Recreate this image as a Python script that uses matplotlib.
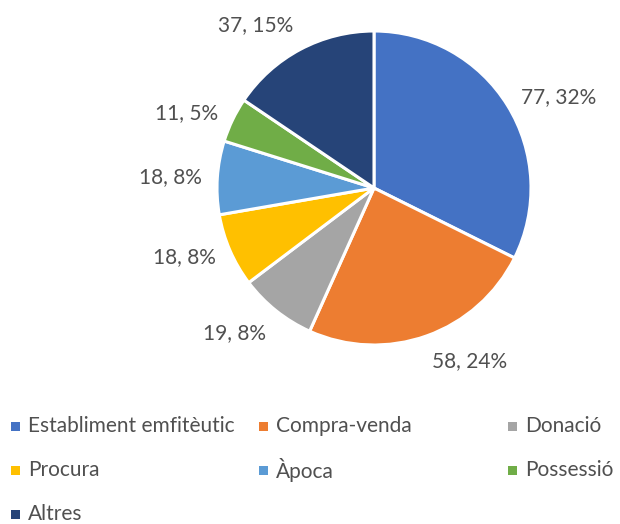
import matplotlib
matplotlib.use("Agg")
import matplotlib.pyplot as plt
from matplotlib.patches import Rectangle
import numpy as np

categories = ["Establiment emfitèutic", "Compra-venda", "Donació", "Procura",
              "Àpoca", "Possessió", "Altres"]
values = [77, 58, 19, 18, 18, 11, 37]
pct_labels = ["32%", "24%", "8%", "8%", "8%", "5%", "15%"]
colors = ["#4472C4", "#ED7D31", "#A5A5A5", "#FFC000", "#5B9BD5", "#70AD47", "#264478"]

plt.rcParams['font.family'] = ['Lato', 'DejaVu Sans']
text_color = "#505050"

W, H = 620, 524
fig = plt.figure(figsize=(W / 100, H / 100), dpi=100)

cx, cy, r = 374, 188, 157
ax = fig.add_axes([(cx - r) / W, (H - cy - r) / H, 2 * r / W, 2 * r / H])
wedges, _ = ax.pie(values, colors=colors, startangle=90, counterclock=False,
                   radius=1.0, wedgeprops=dict(edgecolor="white", linewidth=2.2))
ax.set_xlim(-1, 1)
ax.set_ylim(-1, 1)
ax.set_aspect("equal")
ax.axis("off")

total = sum(values)
cum = 0
for v, p in zip(values, pct_labels):
    mid = (cum + v / 2) / total * 2 * np.pi
    cum += v
    x, y = np.sin(mid), np.cos(mid)
    ha = "left" if x > 0 else "right"
    if y > 0.7:
        va = "bottom"
    elif y < -0.7:
        va = "top"
    else:
        va = "center"
    ax.text(1.1 * x, 1.1 * y, f"{v}, {p}", ha=ha, va=va, fontsize=15,
            color=text_color, clip_on=False)

# legend (row-major, 3 columns)
col_x = [11, 259, 508]
row_y = [426, 470, 514]
sq = 9
for i, (lab, c) in enumerate(zip(categories, colors)):
    row, col = divmod(i, 3)
    mx, my = col_x[col], row_y[row]
    fig.add_artist(Rectangle(((mx) / W, (H - my - sq / 2) / H), sq / W, sq / H,
                             transform=fig.transFigure, facecolor=c, edgecolor="none"))
    fig.text((mx + 17) / W, (H - my) / H, lab, ha="left", va="center",
             fontsize=15, color=text_color)

fig.savefig("out.png", dpi=100, facecolor="white")
